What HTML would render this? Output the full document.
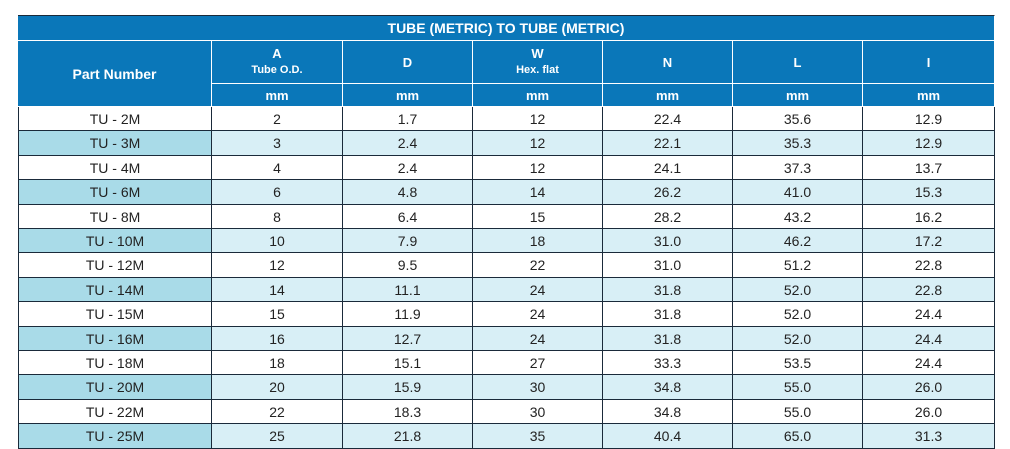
<!DOCTYPE html>
<html><head><meta charset="utf-8">
<style>
body{margin:0;width:1010px;height:449px;background:#fff;position:relative;overflow:hidden;font-family:"Liberation Sans",sans-serif;}
.c{position:absolute;box-sizing:border-box;display:flex;align-items:center;justify-content:center;text-align:center;}
.h{background:#0a77b9;color:#fff;font-weight:bold;border-right:1px solid #fff;border-bottom:1px solid #fff;}
.d{font-size:14px;color:#222;border-right:1px solid #1a2a3a;border-bottom:1px solid #1a2a3a;}
</style></head><body>
<div id="t"></div>
<script>
const parts=["TU - 2M","TU - 3M","TU - 4M","TU - 6M","TU - 8M","TU - 10M","TU - 12M","TU - 14M","TU - 15M","TU - 16M","TU - 18M","TU - 20M","TU - 22M","TU - 25M"];
const colA=["2","3","4","6","8","10","12","14","15","16","18","20","22","25"];
const colD=["1.7","2.4","2.4","4.8","6.4","7.9","9.5","11.1","11.9","12.7","15.1","15.9","18.3","21.8"];
const colW=["12","12","12","14","15","18","22","24","24","24","27","30","30","35"];
const colN=["22.4","22.1","24.1","26.2","28.2","31.0","31.0","31.8","31.8","31.8","33.3","34.8","34.8","40.4"];
const colL=["35.6","35.3","37.3","41.0","43.2","46.2","51.2","52.0","52.0","52.0","53.5","55.0","55.0","65.0"];
const colI=["12.9","12.9","13.7","15.3","16.2","17.2","22.8","22.8","24.4","24.4","24.4","26.0","26.0","31.3"];
const xs=[18,212,343,473,603,733,863,995];
const t=document.getElementById('t');
function cell(x,y,w,h,cls,html,name){const e=document.createElement('div');e.className='c '+cls;e.style.left=x+'px';e.style.top=y+'px';e.style.width=w+'px';e.style.height=h+'px';e.innerHTML=html;


t.appendChild(e);return e;}
let ti=cell(18,15,977,26,'h','TUBE (METRIC) TO TUBE (METRIC)','table-title');ti.style.fontSize='14px';ti.style.borderTop='1px solid #1a2a3a';
let pn=cell(18,41,194,66,'h','Part Number','header-part-number');pn.style.fontSize='14px';
const heads=[['A','Tube O.D.'],['D',''],['W','Hex. flat'],['N',''],['L',''],['I','']];
heads.forEach((hd,i)=>{const x=xs[i+1],w=xs[i+2]-x;
let e=cell(x,41,w,43,'h','<div style="font-size:13px;line-height:15px">'+hd[0]+(hd[1]?'<br><span style="font-size:11px">'+hd[1]+'</span>':'')+'</div>','header-'+hd[0].toLowerCase());
let m=cell(x,84,w,23,'h','mm','unit-'+hd[0].toLowerCase());m.style.fontSize='13px';});
const cols=[parts,colA,colD,colW,colN,colL,colI];
const rh=24.4;
for(let r=0;r<parts.length;r++){const y=Math.round(107+r*rh),h=Math.round(107+(r+1)*rh)-y;const alt=r%2==1;
cols.forEach((c,ci)=>{const x=xs[ci],w=xs[ci+1]-x;
let e=cell(x,y,w,h,'d',c[r],ci==0?'part-number-cell':'value-cell');
e.style.background=alt?(ci==0?'#a9dbe8':'#d8eff6'):'#fff';
if(ci==0)e.style.borderLeft='1px solid #1a2a3a';});}
</script>
</body></html>
